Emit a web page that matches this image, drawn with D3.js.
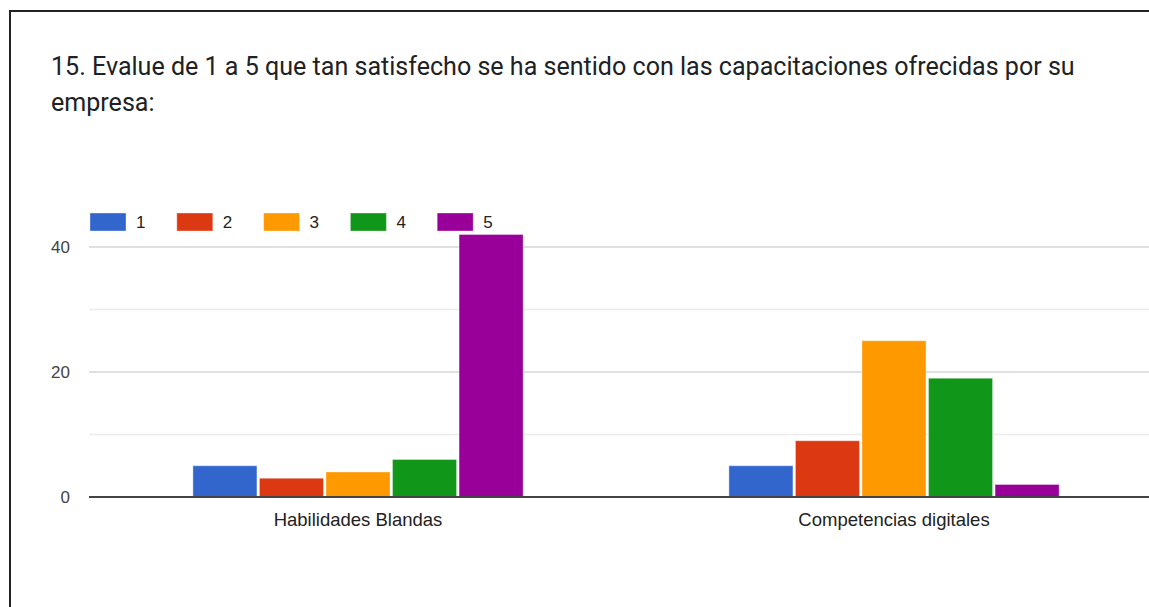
<!DOCTYPE html>
<html>
<head>
<meta charset="utf-8">
<script src="https://cdn.jsdelivr.net/npm/d3@7"></script>
<style>
  html, body { margin: 0; padding: 0; background: #fff; }
  svg { display: block; }
</style>
</head>
<body>
<div class="viz"></div>
<script>
// data
var categories = ["Habilidades Blandas", "Competencias digitales"];
var ratings = ["1", "2", "3", "4", "5"];
var values1 = [5, 3, 4, 6, 42];   // Habilidades Blandas
var values2 = [5, 9, 25, 19, 2]; // Competencias digitales
var yTicks = [0, 20, 40];
var yMinor = [10, 30];
var titleLines = ["15. Evalue de 1 a 5 que tan satisfecho se ha sentido con las capacitaciones ofrecidas por su", "empresa:"];

var colors = ["#3366cc", "#dc3912", "#ff9900", "#109618", "#990099"];

var W = 1149, H = 607;
var margin = { top: 247, left: 90, bottom: 110 };
var plotBottom = 497;

var svg = d3.select(".viz").append("svg")
    .attr("width", W)
    .attr("height", H);

// frame (left and top edges only, like the screenshot)
svg.append("path")
    .attr("d", "M10," + H + " V11 H" + W)
    .attr("fill", "none")
    .attr("stroke", "#222")
    .attr("stroke-width", 2);

// title
var title = svg.append("text")
    .attr("x", 51)
    .attr("y", 75)
    .style("font-family", "Roboto, sans-serif")
    .style("font-size", "21px")
    .style("fill", "#202124");
title.selectAll("tspan")
    .data(titleLines)
    .enter()
    .append("tspan")
    .attr("x", 51)
    .attr("dy", (d, i) => i === 0 ? 0 : 36)
    .text(d => d);
// fit first line to the width seen in the picture
var firstLine = title.select("tspan").node();
var w0 = firstLine.getComputedTextLength();
title.style("font-size", (21 * 1024 / w0).toFixed(2) + "px");

// scales
var yScale = d3.scaleLinear()
    .domain([0, 40])
    .range([plotBottom, margin.top]);

var x0 = d3.scaleBand()
    .domain(categories)
    .range([90, 1162])
    .paddingInner(0.384)
    .paddingOuter(0.192);

var x1 = d3.scaleBand()
    .domain(ratings)
    .range([0, x0.bandwidth()])
    .paddingInner(0.038);

// gridlines
svg.append("g")
    .selectAll("line.minor")
    .data(yMinor)
    .enter()
    .append("line")
    .attr("class", "minor")
    .attr("x1", 89).attr("x2", W)
    .attr("y1", d => yScale(d)).attr("y2", d => yScale(d))
    .attr("stroke", "#ececec")
    .attr("stroke-width", 1.5);

svg.append("g")
    .selectAll("line.major")
    .data(yTicks.filter(d => d !== 0))
    .enter()
    .append("line")
    .attr("class", "major")
    .attr("x1", 89).attr("x2", W)
    .attr("y1", d => yScale(d)).attr("y2", d => yScale(d))
    .attr("stroke", "#d6d6d6")
    .attr("stroke-width", 1.5);

// y axis labels
var yAxis = d3.axisLeft(yScale)
    .tickValues(yTicks)
    .tickSize(0)
    .tickPadding(0);
var gY = svg.append("g")
    .attr("transform", "translate(70,0)")
    .call(yAxis);
gY.select(".domain").remove();
gY.selectAll("text")
    .style("font-family", "'Liberation Sans', Arial, sans-serif")
    .style("font-size", "17px")
    .style("fill", "#444");

// bars
var rows = categories.map((c, i) => ({ cat: c, vals: i === 0 ? values1 : values2 }));
var groups = svg.append("g")
    .selectAll("g")
    .data(rows)
    .enter()
    .append("g")
    .attr("transform", d => "translate(" + x0(d.cat) + ",0)");

groups.selectAll("rect")
    .data(d => d.vals.map((v, j) => ({ key: ratings[j], value: v, color: colors[j] })))
    .enter()
    .append("rect")
    .attr("x", d => x1(d.key))
    .attr("y", d => yScale(d.value))
    .attr("width", x1.bandwidth())
    .attr("height", d => plotBottom - yScale(d.value))
    .attr("fill", d => d.color)
    .attr("stroke", "#ffffff")
    .attr("stroke-opacity", 0.35)
    .attr("stroke-width", 1);

// baseline
svg.append("line")
    .attr("x1", 89).attr("x2", W)
    .attr("y1", plotBottom).attr("y2", plotBottom)
    .attr("stroke", "#444")
    .attr("stroke-width", 2);

// x axis labels
var xAxis = d3.axisBottom(x0).tickSize(0).tickPadding(0);
var gX = svg.append("g")
    .attr("transform", "translate(0," + plotBottom + ")")
    .call(xAxis);
gX.select(".domain").remove();
gX.selectAll("text")
    .attr("dy", null)
    .attr("y", 29)
    .style("font-family", "'Liberation Sans', Arial, sans-serif")
    .style("font-size", "18.5px")
    .style("fill", "#222");

// legend
var legend = svg.append("g")
    .selectAll("g")
    .data(ratings)
    .enter()
    .append("g")
    .attr("transform", (d, i) => "translate(" + (90 + i * 86.8) + ",213)");

legend.append("rect")
    .attr("width", 36)
    .attr("height", 18)
    .attr("fill", (d, i) => colors[i])
    .attr("stroke", "#ffffff")
    .attr("stroke-opacity", 0.35);

legend.append("text")
    .attr("x", 46)
    .attr("y", 9)
    .attr("dy", "0.36em")
    .style("font-family", "'Liberation Sans', Arial, sans-serif")
    .style("font-size", "17px")
    .style("fill", "#222")
    .text(d => d);
</script>
</body>
</html>
